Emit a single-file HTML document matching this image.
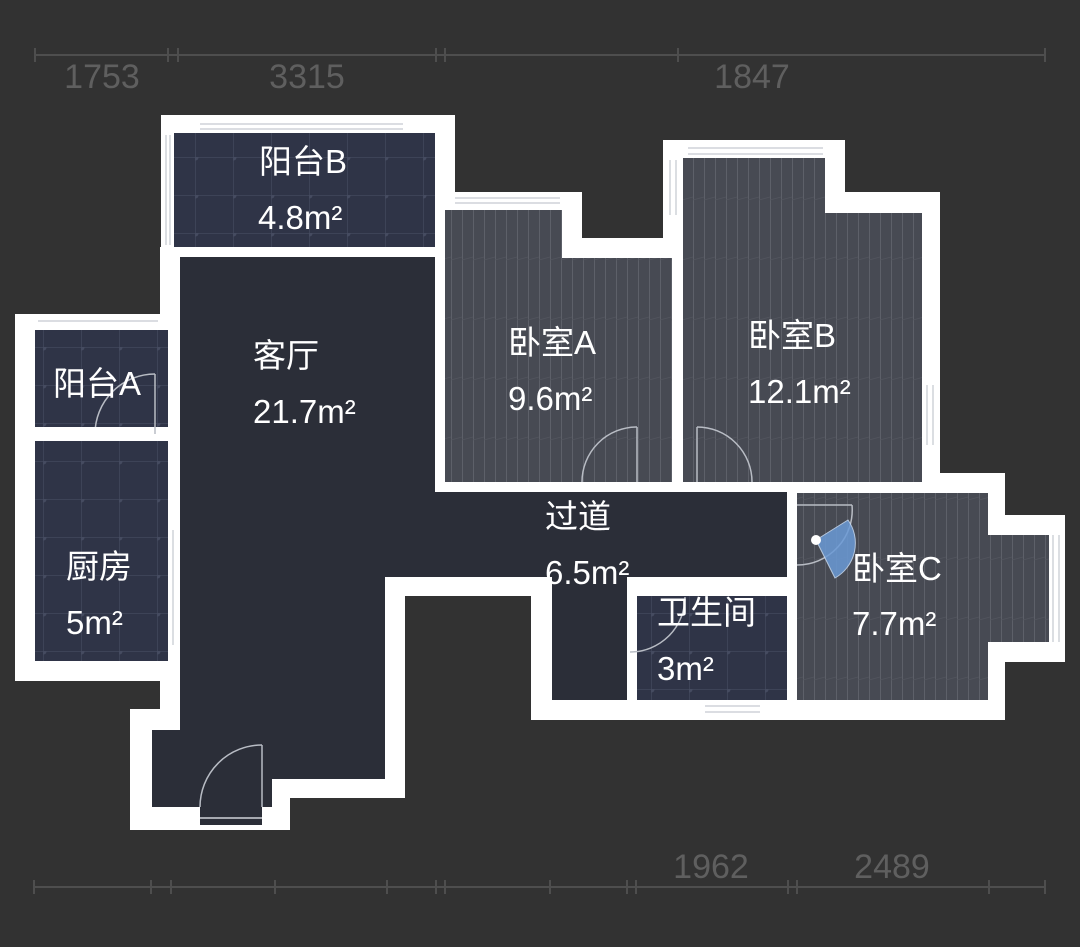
<!DOCTYPE html>
<html><head><meta charset="utf-8"><style>
html,body{margin:0;padding:0;background:#323232;}
svg{display:block;}
text{font-family:"Liberation Sans","Noto Sans CJK SC",sans-serif;}
</style></head><body>
<svg width="1080" height="947" viewBox="0 0 1080 947" xmlns="http://www.w3.org/2000/svg">
<defs>
<pattern id="stripe" width="11" height="60" patternUnits="userSpaceOnUse">
<rect width="11" height="60" fill="#474a53"/>
<line x1="0.5" y1="0" x2="0.5" y2="60" stroke="#5d6069" stroke-width="1"/>
<line x1="0" y1="20" x2="11" y2="17" stroke="#52555e" stroke-width="0.8"/>
</pattern>
<pattern id="tile" width="38" height="38" patternUnits="userSpaceOnUse" x="5" y="5">
<rect width="38" height="38" fill="#2f3447"/>
<line x1="0" y1="0.5" x2="38" y2="0.5" stroke="#3d4357" stroke-width="1"/>
<line x1="0.5" y1="0" x2="0.5" y2="38" stroke="#3d4357" stroke-width="1"/>
<circle cx="0.5" cy="0.5" r="3" fill="#454b60"/>
</pattern>
</defs>
<rect width="1080" height="947" fill="#323232"/>
<g stroke="#4e4e4e" stroke-width="2">
<line x1="35" y1="55" x2="1045" y2="55"/>
<line x1="35" y1="48" x2="35" y2="62"/><line x1="168" y1="48" x2="168" y2="62"/><line x1="178" y1="48" x2="178" y2="62"/>
<line x1="436" y1="48" x2="436" y2="62"/><line x1="445" y1="48" x2="445" y2="62"/><line x1="678" y1="48" x2="678" y2="62"/><line x1="1045" y1="48" x2="1045" y2="62"/>
<line x1="34" y1="887" x2="1045" y2="887"/>
<line x1="34" y1="880" x2="34" y2="894"/><line x1="151" y1="880" x2="151" y2="894"/><line x1="171" y1="880" x2="171" y2="894"/><line x1="275" y1="880" x2="275" y2="894"/><line x1="387" y1="880" x2="387" y2="894"/><line x1="436" y1="880" x2="436" y2="894"/><line x1="445" y1="880" x2="445" y2="894"/><line x1="550" y1="880" x2="550" y2="894"/><line x1="627" y1="880" x2="627" y2="894"/><line x1="636" y1="880" x2="636" y2="894"/><line x1="788" y1="880" x2="788" y2="894"/><line x1="797" y1="880" x2="797" y2="894"/><line x1="989" y1="880" x2="989" y2="894"/><line x1="1045" y1="880" x2="1045" y2="894"/>
</g>
<g fill="#5f5f5f" font-size="34" text-anchor="middle">
<text x="102" y="88">1753</text><text x="307" y="88">3315</text><text x="752" y="88">1847</text>
<text x="711" y="878">1962</text><text x="892" y="878">2489</text>
</g>
<polygon fill="#ffffff" points="161,115 455,115 455,192 582,192 582,238 663,238 663,140 845,140 845,192 940,192 940,473 1005,473 1005,515 1065,515 1065,662 1005,662 1005,720 531,720 531,596 405,596 405,798 290,798 290,830 130,830 130,709 160,709 160,681 15,681 15,314 160,314 160,247 161,247"/>
<rect x="174" y="133" width="261" height="114" fill="url(#tile)"/>
<rect x="35" y="330" width="133" height="97" fill="url(#tile)"/>
<rect x="35" y="441" width="133" height="220" fill="url(#tile)"/>
<rect x="637" y="596" width="150" height="104" fill="url(#tile)"/>
<polygon fill="#2b2e38" points="180,257 435,257 435,492 787,492 787,577 627,577 627,700 552,700 552,577 385,577 385,779 272,779 272,807 152,807 152,730 180,730"/>
<rect x="200" y="806" width="62" height="19" fill="#2b2e38"/>
<line x1="200" y1="818" x2="262" y2="818" stroke="#cfd2d8" stroke-width="1.5"/>
<polygon fill="url(#stripe)" points="445,210 562,210 562,258 672,258 672,482 445,482"/>
<polygon fill="url(#stripe)" points="683,158 825,158 825,213 922,213 922,482 683,482"/>
<polygon fill="url(#stripe)" points="797,493 988,493 988,535 1049,535 1049,642 988,642 988,700 797,700"/>
<g stroke="#cfd2d8" stroke-width="1.5" fill="none">
<line x1="200" y1="124" x2="403" y2="124"/><line x1="200" y1="129" x2="403" y2="129"/>
<line x1="166" y1="135" x2="166" y2="245"/><line x1="170" y1="135" x2="170" y2="245"/>
<line x1="455" y1="198" x2="560" y2="198"/><line x1="455" y1="203" x2="560" y2="203"/>
<line x1="688" y1="148" x2="823" y2="148"/><line x1="688" y1="154" x2="823" y2="154"/>
<line x1="670" y1="160" x2="670" y2="215"/><line x1="676" y1="160" x2="676" y2="215"/>
<line x1="927" y1="385" x2="927" y2="445"/><line x1="933" y1="385" x2="933" y2="445"/>
<line x1="1053" y1="535" x2="1053" y2="642"/><line x1="1059" y1="535" x2="1059" y2="642"/>
<line x1="38" y1="321" x2="158" y2="321"/>
<line x1="173" y1="530" x2="173" y2="645"/>
<line x1="705" y1="706" x2="760" y2="706"/><line x1="705" y1="712" x2="760" y2="712"/>
</g>
<g stroke="#b8bcc4" stroke-width="1.5" fill="none">
<path d="M200,807 A62,62 0 0 1 262,745"/><line x1="262" y1="745" x2="262" y2="807"/>
<path d="M582,482 A55,55 0 0 1 637,427"/><line x1="637" y1="427" x2="637" y2="482"/>
<path d="M697,427 A55,55 0 0 1 752,482"/><line x1="697" y1="427" x2="697" y2="482"/>
<path d="M95,434 A60,60 0 0 1 155,374"/><line x1="155" y1="374" x2="155" y2="434"/>
<path d="M630,652 A55,55 0 0 0 685,597"/>
<path d="M797,565 A55,55 0 0 0 852,505"/><line x1="797" y1="505" x2="852" y2="505"/>
</g>
<rect x="86" y="427" width="12" height="12" fill="#fff"/>
<path d="M816,540 L848,520 A40,40 0 0 1 835,578 Z" fill="#6b9ad6" opacity="0.85" stroke="#c8dcf5" stroke-width="1"/>
<circle cx="816" cy="540" r="5" fill="#fff"/>
<g fill="#ffffff" font-size="33">
<text x="259" y="173">阳台B</text><text x="258" y="229">4.8m²</text>
<text x="253" y="367">客厅</text><text x="253" y="423">21.7m²</text>
<text x="508" y="354">卧室A</text><text x="508" y="410">9.6m²</text>
<text x="748" y="347">卧室B</text><text x="748" y="403">12.1m²</text>
<text x="53" y="395">阳台A</text>
<text x="66" y="578">厨房</text><text x="66" y="634">5m²</text>
<text x="545" y="528">过道</text><text x="545" y="584">6.5m²</text>
<text x="657" y="624">卫生间</text><text x="657" y="680">3m²</text>
<text x="852" y="580">卧室C</text><text x="852" y="635">7.7m²</text>
</g>
</svg>
</body></html>
